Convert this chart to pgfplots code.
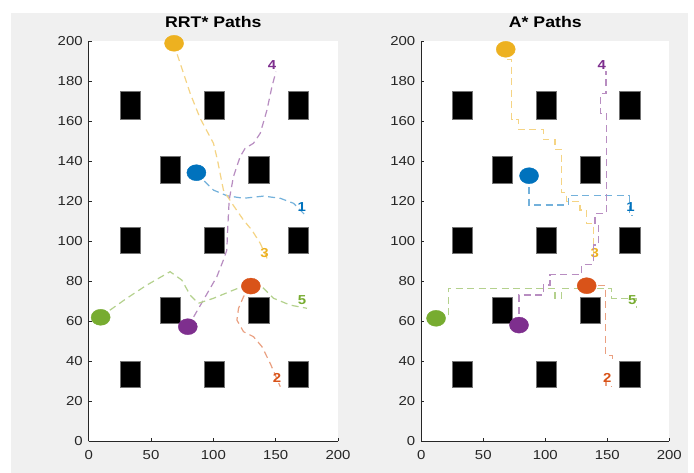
\documentclass[border=0pt]{standalone}
\usepackage{fontspec}
\setmainfont{Liberation Sans}[FakeStretch=1.15]
\usepackage{pgfplots}
\pgfplotsset{compat=1.18}
\definecolor{mBlue}{HTML}{0072BD}
\definecolor{mOrange}{HTML}{D95319}
\definecolor{mYellow}{HTML}{EDB120}
\definecolor{mPurple}{HTML}{7E2F8E}
\definecolor{mGreen}{HTML}{77AC30}
\definecolor{figgray}{HTML}{F0F0F0}
\definecolor{axgray}{HTML}{262626}
\tikzset{lbl/.style={font=\bfseries\fontsize{13bp}{15bp}\selectfont, text=#1}}
\pgfplotsset{
  mapax/.style={
    scale only axis, width=249.3bp, height=400bp, anchor=south west,
    xmin=0,xmax=200,ymin=0,ymax=200,
    xtick={0,50,100,150,200}, ytick={0,20,...,200},
    axis lines*=left, axis line style={axgray, line width=0.8bp},
    tick align=inside, major tick length=3bp, tick style={axgray, line width=0.6bp},
    axis background/.style={fill=white},
    clip=false,
    /pgf/number format/assume math mode=true,
    tick label style={font=\fontsize{13bp}{15bp}\selectfont, text=axgray},
    xticklabel style={yshift=-5bp},
    yticklabel style={xshift=-2.5bp},
    title style={font=\bfseries\fontsize{15.4bp}{18bp}\selectfont, at={(0.5,1)}, anchor=base, yshift=8.5bp},
  },
  obst/.style={fill=black, draw=black!55, line width=0.5bp},
  pth/.style={dash pattern=on 7bp off 4.5bp, line width=1.2bp},
  mk/.style={only marks, mark=*, mark size=8bp, mark options={xscale=1.19, fill=#1, draw=#1}},
}
\newcommand{\obs}[4]{\addplot[obst] coordinates {(#1,#3) (#2,#3) (#2,#4) (#1,#4)} --cycle;}
\newcommand{\obstacles}{%
  \obs{25}{41}{27}{40}\obs{92.5}{109}{27}{40}\obs{160}{176.5}{27}{40}%
  \obs{57}{73.5}{59}{72}\obs{128}{144.5}{59}{72}%
  \obs{25}{41}{94}{107}\obs{92.5}{109}{94}{107}\obs{160}{176.5}{94}{107}%
  \obs{57}{73.5}{129}{142.5}\obs{128}{144.5}{129}{142.5}%
  \obs{25}{41}{161}{175}\obs{92.5}{109}{161}{175}\obs{160}{176.5}{161}{175}%
}
\begin{document}
\begin{tikzpicture}
\fill[white] (0,0) rectangle (694bp,473bp);
\fill[figgray] (11bp,0) rectangle (688bp,460bp);
% ---------------- RRT* ----------------
\begin{axis}[mapax, at={(88.7bp,31.5bp)}, title={RRT* Paths}]
\obstacles
% robot 1
\addplot[mk=mBlue] coordinates {(86.4,134.4)};
\addplot[pth, mBlue!55!white] coordinates {(86.4,134.4) (92,130.7) (100.1,125.7) (110.8,122.9) (124.2,121.6) (140.2,122.7) (153.7,121.6) (164.3,119.1) (173.7,113.2)};
\node[lbl=mBlue] at (axis cs:170.9,117.1) {1};
% robot 2
\addplot[mk=mOrange] coordinates {(130.1,77.7)};
\addplot[pth, mOrange!55!white] coordinates {(130.1,77.7) (124.2,72.4) (120.2,66.6) (118.9,60.7) (124.2,54.9) (132.2,52.4) (139,47.4) (145.6,39.1) (153.7,27.4)};
\node[lbl=mOrange] at (axis cs:151,31.6) {2};
% robot 3
\addplot[mk=mYellow] coordinates {(68.5,199.1)};
\addplot[pth, mYellow!55!white] coordinates {(68.5,199.1) (70.7,194.1) (81.4,174.1) (89.4,161.6) (100.1,149.1) (103.3,140.7) (108.1,125.7) (114.9,119.1) (124.2,110.7) (130.9,105.7) (137.6,99.1) (144.3,89.9)};
\node[lbl=mYellow] at (axis cs:141,94.1) {3};
% robot 4
\addplot[mk=mPurple] coordinates {(79.5,57.4)};
\addplot[pth, mPurple!55!white] coordinates {(79.5,57.4) (82.7,60.7) (92,70.7) (102.8,82.4) (108.1,90.8) (110.8,95.7) (111.6,107.4) (112.7,120.7) (116.1,132.4) (121.5,142.4) (125.5,146.6) (132.2,149.1) (137.6,154.1) (143,165.7) (147,177.4) (150.2,184.9)};
\node[lbl=mPurple] at (axis cs:147,188.3) {4};
% robot 5
\addplot[mk=mGreen] coordinates {(9.6,62.1)};
\addplot[pth, mGreen!55!white] coordinates {(9.6,62.1) (17.1,65.7) (30.5,71.6) (46.6,78.2) (65.3,84.9) (74.7,80.7) (81.4,73.2) (88,69.1) (100.1,71.6) (116.1,75.7) (129.6,79.1) (139,77.4) (148.3,71.6) (161.7,68.2) (175.1,66.6)};
\node[lbl=mGreen] at (axis cs:171.1,70.8) {5};
\end{axis}
% ---------------- A* ----------------
\begin{axis}[mapax, at={(421.3bp,31.5bp)}, width=248bp, title={A* Paths}]
\obstacles
% robot 1
\addplot[mk=mBlue] coordinates {(86.9,132.9)};
\addplot[pth, mBlue!55!white] coordinates {(86.9,132.9) (86.9,118.2) (118.6,118.2) (118.6,122.9) (167.7,122.9) (167.7,113) (171,113)};
\node[lbl=mBlue] at (axis cs:168.8,117.1) {1};
% robot 2
\addplot[mk=mOrange] coordinates {(133.4,77.9)};
\addplot[pth, mOrange!55!white] coordinates {(133.4,77.9) (148.5,77.9) (148.5,43) (154,43) (154,40)};
\addplot[pth, mOrange!55!white] coordinates {(149,31) (149,27.5) (154,27.5)};
\node[lbl=mOrange] at (axis cs:150,31.6) {2};
% robot 3
\addplot[mk=mYellow] coordinates {(68.1,196.1)};
\addplot[pth, mYellow!55!white] coordinates {(69.4,191) (72.9,191) (72.9,161) (78.3,161) (78.3,156) (98.4,156) (98.4,151) (107.8,151) (107.8,146) (113.2,146) (113.2,124.5) (117.3,124.5) (117.3,120) (128,120) (128,115.7) (133.4,115.7) (133.4,109) (138.7,109) (138.7,92)};
\node[lbl=mYellow] at (axis cs:140,94.1) {3};
% robot 4
\addplot[mk=mPurple] coordinates {(78.8,58.2)};
\addplot[pth, mPurple!55!white] coordinates {(78.8,58.2) (78.8,73.2) (98.4,73.2) (98.4,78.2) (103.8,78.2) (103.8,83.6) (129.3,83.6) (129.3,88.6) (138.7,88.6) (138.7,98.2) (142.7,98.2) (142.7,109) (140.1,109) (140.1,114.1) (149.5,114.1) (149.5,164) (144.4,164) (144.4,174) (149,174) (149,185)};
\node[lbl=mPurple] at (axis cs:145.5,188.3) {4};
% robot 5
\addplot[mk=mGreen] coordinates {(11.9,61.6)};
\addplot[pth, mGreen!55!white] coordinates {(21.8,63) (21.8,76.6) (107.8,76.6) (107.8,71.6) (113.2,71.6) (113.2,76.6) (153.5,76.6) (153.5,71.6) (173.7,71.6) (173.7,66.6)};
\node[lbl=mGreen] at (axis cs:170.2,70.8) {5};
\end{axis}
\end{tikzpicture}
\end{document}
